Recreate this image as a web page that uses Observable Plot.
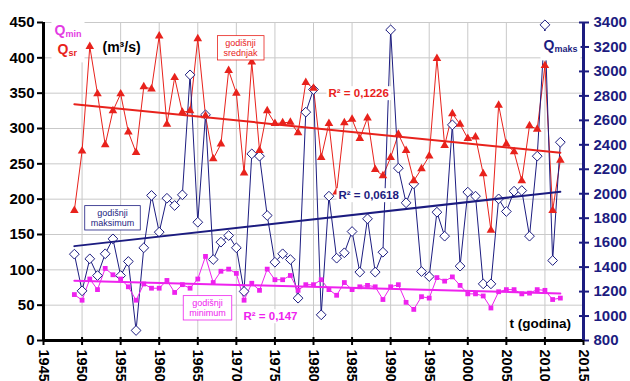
<!DOCTYPE html>
<html><head><meta charset="utf-8">
<script src="https://cdn.jsdelivr.net/npm/d3@7"></script>
<script src="https://cdn.jsdelivr.net/npm/@observablehq/plot@0.6"></script>
<style>
body{margin:0;background:#fff}
#chart svg{font-family:"Liberation Sans",Arial,sans-serif;display:block}
</style>
</head><body><div id="chart"></div>
<script>
// Years 1949–2012
const years = d3.range(1949, 2013);
// Annual mean discharge Qsr (m3/s), left axis
const qsr = [184,268,416,349,277,325,349,295,266,359,
             356,431,306,372,323,325,427,318,257,278,
             382,350,237,394,269,325,307,308,309,294,
             365,357,259,307,210,308,313,286,315,242,
             233,259,292,269,226,243,261,399,276,321,
             306,286,288,236,156,333,278,267,226,304,
             299,389,184,255];
// Annual maximum discharge Qmaks (m3/s), right axis
const qmaks = [1506,1206,1468,1331,1509,1631,1331,1446,882,1558,
               1986,1686,1963,1904,1991,2972,1767,2645,1462,1604,
               1658,1558,1201,2326,2307,1822,1440,1509,1462,1146,
               2667,2852,1010,1980,1473,1517,1691,1359,1795,1359,
               1522,3340,2209,1926,2081,1364,1323,1849,1653,2563,
               1408,2013,1980,1263,1263,1958,1855,2021,2026,1653,
               2307,3381,1454,2421];
// Annual minimum discharge Qmin (m3/s), left axis
const qmin = [65,57,87,72,102,93,87,76,57,80,
              74,74,85,68,79,74,87,119,82,98,
              101,95,57,81,71,101,86,86,92,71,
              79,79,86,72,64,82,72,76,78,76,
              58,76,79,54,44,62,60,89,84,90,
              78,66,66,63,46,69,72,72,66,67,
              72,71,58,60];

const xTicks = d3.range(1945, 2016, 5);
const leftTicks = d3.range(0, 451, 50);
const rightTicks = d3.range(800, 3401, 200);
const r2Labels = ["R² = 0,1226", "R² = 0,0618", "R² = 0,147"];

const RED = "#e8221c", NAVY = "#1c1c80", MAG = "#ee22ee", GRID = "#c9c9c9";
const RMIN = 800, RMAX = 3400, LMAX = 450;
const toLeft = v => (v - RMIN) * LMAX / (RMAX - RMIN);
const fromLeft = v => String(Math.round(v * (RMAX - RMIN) / LMAX + RMIN));

const data = years.map((year, i) => ({year, qsr: qsr[i], qmaksY: toLeft(qmaks[i]), qmin: qmin[i]}));

const txt = (s, o) => Plot.text([s], {frameAnchor: "top-left", textAnchor: "start", lineAnchor: "middle", ...o});

const plot = Plot.plot({
  width: 630, height: 381,
  marginLeft: 43, marginRight: 47, marginTop: 22, marginBottom: 41,
  x: {domain: [1945, 2015], label: null},
  y: {domain: [0, 450], label: null},
  style: {fontFamily: '"Liberation Sans",Arial,sans-serif', background: "white"},
  marks: [
    Plot.gridX(xTicks.slice(1, -1), {stroke: GRID, strokeOpacity: 1}),
    Plot.gridY(leftTicks.slice(1), {stroke: GRID, strokeOpacity: 1}),
    Plot.line(data, {x: "year", y: "qsr", stroke: RED, strokeWidth: 1}),
    Plot.line(data, {x: "year", y: "qmaksY", stroke: NAVY, strokeWidth: 1}),
    Plot.line(data, {x: "year", y: "qmin", stroke: MAG, strokeWidth: 1}),
    Plot.dot(data, {x: "year", y: "qmaksY", symbol: "diamond2", r: 4.4, fill: "white", stroke: NAVY, strokeWidth: 1}),
    Plot.dot(data, {x: "year", y: "qsr", symbol: "triangle", r: 3.2, fill: RED}),
    Plot.dot(data, {x: "year", y: "qmin", symbol: "square", r: 2.7, fill: MAG}),
    Plot.linearRegressionY(data, {x: "year", y: "qsr", stroke: RED, strokeWidth: 2, ci: 0}),
    Plot.linearRegressionY(data, {x: "year", y: "qmaksY", stroke: NAVY, strokeWidth: 2, ci: 0}),
    Plot.linearRegressionY(data, {x: "year", y: "qmin", stroke: MAG, strokeWidth: 2, ci: 0}),
    // axes
    Plot.axisY(leftTicks, {anchor: "left", label: null, tickSize: 6, tickPadding: 3, fontSize: 15, fontWeight: "bold", color: "black", strokeWidth: 2}),
    Plot.axisY(rightTicks.map(toLeft), {anchor: "right", label: null, tickSize: 10, dx: -5, tickPadding: 5, tickFormat: fromLeft, fontSize: 15, fontWeight: "bold", color: NAVY, strokeWidth: 2}),
    Plot.axisX(xTicks, {anchor: "bottom", label: null, tickSize: 8, dy: -3, tickPadding: 4, tickRotate: 90, tickFormat: d => String(d), fontSize: 14.5, fontWeight: "bold", color: "black", strokeWidth: 2}),
    Plot.ruleX([1945], {strokeWidth: 3, stroke: "black"}),
    Plot.ruleY([0], {strokeWidth: 3, stroke: "black"}),
    Plot.ruleX([2015], {strokeWidth: 3, stroke: NAVY}),
    // titles
    txt("Q", {dx: 11, dy: 8, fill: "#e33be3", fontSize: 14, fontWeight: "bold", ariaDescription: "grp-left"}),
    txt("min", {dx: 22, dy: 12, fill: "#e33be3", fontSize: 9, fontWeight: "bold", ariaDescription: "grp-left"}),
    txt("Q", {dx: 14, dy: 27, fill: RED, fontSize: 14, fontWeight: "bold", ariaDescription: "grp-left"}),
    txt("sr", {dx: 25, dy: 31, fill: RED, fontSize: 9, fontWeight: "bold", ariaDescription: "grp-left"}),
    txt("(m³/s)", {dx: 59, dy: 25, fill: "black", fontSize: 14, fontWeight: "bold"}),
    txt("Q", {dx: 500, dy: 23, fill: NAVY, fontSize: 14, fontWeight: "bold", ariaDescription: "grp-right"}),
    txt("maks", {dx: 511, dy: 27, fill: NAVY, fontSize: 9, fontWeight: "bold", ariaDescription: "grp-right"}),
    txt("t (godina)", {dx: 466, dy: 301, fill: "black", fontSize: 13.5, fontWeight: "bold"}),
    txt(r2Labels[0], {dx: 285, dy: 71, fill: RED, fontSize: 11.5, fontWeight: "bold", ariaDescription: "bg-white"}),
    txt(r2Labels[1], {dx: 295, dy: 173, fill: NAVY, fontSize: 11.5, fontWeight: "bold", ariaDescription: "bg-white"}),
    txt(r2Labels[2], {dx: 200, dy: 294, fill: MAG, fontSize: 11.5, fontWeight: "bold", ariaDescription: "bg-white"}),
    // boxed legend labels
    txt("godišnji\nsrednjak", {dx: 197, dy: 25, textAnchor: "middle", fill: RED, fontSize: 9, lineHeight: 1.15, ariaDescription: "box-red"}),
    txt("godišnji\nmaksimum", {dx: 69, dy: 195, textAnchor: "middle", fill: NAVY, fontSize: 9, lineHeight: 1.15, ariaDescription: "box-navy"}),
    txt("godišnji\nminimum", {dx: 164, dy: 285, textAnchor: "middle", fill: MAG, fontSize: 9, lineHeight: 1.15, ariaDescription: "box-mag"})
  ]
});
document.getElementById("chart").appendChild(plot);

const svgRect = plot.getBoundingClientRect();
function addBox(selector, stroke, px, py) {
  const gs = plot.querySelectorAll(`g[aria-description="${selector}"]`);
  if (!gs.length) return;
  const makeRect = (x0, y0, x1, y1, before) => {
    const rect = document.createElementNS("http://www.w3.org/2000/svg", "rect");
    rect.setAttribute("x", x0 - px);
    rect.setAttribute("y", y0 - py);
    rect.setAttribute("width", x1 - x0 + 2 * px);
    rect.setAttribute("height", y1 - y0 + 2 * py);
    rect.setAttribute("fill", "white");
    rect.setAttribute("stroke", stroke);
    rect.setAttribute("stroke-width", 0.8);
    before.parentNode.insertBefore(rect, before);
  };
  const bounds = g => {
    const b = g.getBoundingClientRect();
    return [b.left - svgRect.left, b.top - svgRect.top, b.right - svgRect.left, b.bottom - svgRect.top];
  };
  if (selector.startsWith("grp")) {
    let u = [Infinity, Infinity, -Infinity, -Infinity];
    gs.forEach(g => { const b = bounds(g); u = [Math.min(u[0], b[0]), Math.min(u[1], b[1]), Math.max(u[2], b[2]), Math.max(u[3], b[3])]; });
    makeRect(...u, gs[0]);
  } else {
    gs.forEach(g => { const b = bounds(g); makeRect(...b, g); });
  }
}
addBox("grp-left", "none", 3, 4);
addBox("grp-right", "none", 3, 6);
addBox("bg-white", "none", 2, 1);
addBox("box-red", RED, 6, 2);
addBox("box-navy", NAVY, 6, 2);
addBox("box-mag", MAG, 6, 2);
</script>
</body></html>
